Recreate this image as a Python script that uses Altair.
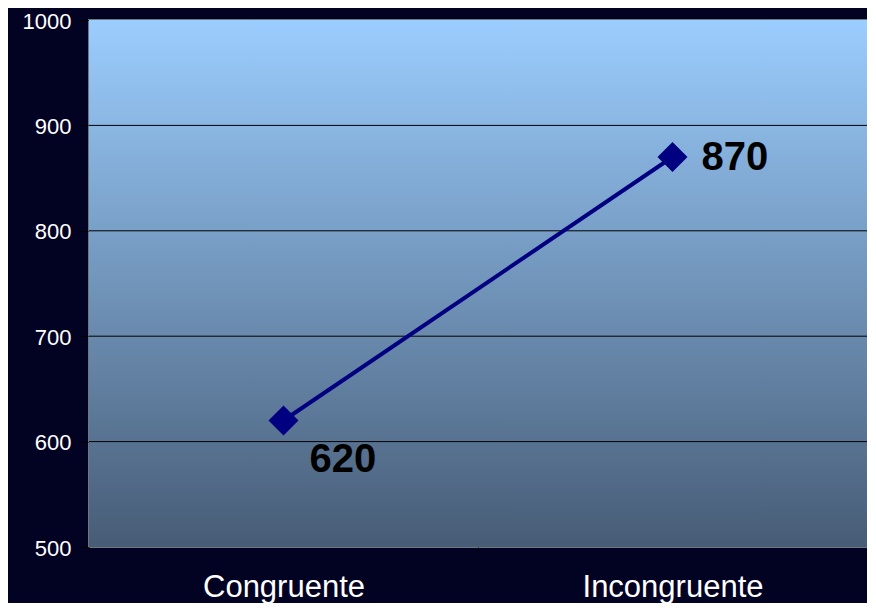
import altair as alt
import pandas as pd

conditions = ["Congruente", "Incongruente"]
reaction_ms = [620, 870]
y_ticks = [500, 600, 700, 800, 900, 1000]
grid_values = [600, 700, 800, 900]

df = pd.DataFrame({"cond": conditions, "rt": reaction_ms})
grid_df = pd.DataFrame({"rt": grid_values})
bg_df = pd.DataFrame({"k": [0]})

FONT = "Liberation Sans"

x_enc = alt.X(
    "cond:N",
    sort=conditions,
    scale=alt.Scale(type="band", paddingInner=0, paddingOuter=0, domain=conditions),
    axis=alt.Axis(
        title=None, labelAngle=0, tickBand="extent", tickSize=6, tickColor="#000000",
        labelPadding=43, labelBaseline="alphabetic", labelFontSize=31, labelLimit=0,
        labelColor="#ffffff", labelFont=FONT, domain=False, grid=False,
    ),
)
y_scale = alt.Scale(domain=[500, 1000], nice=False, zero=False)
y_axis = alt.Axis(
    values=y_ticks, format="d", title=None, grid=False, domain=True, domainColor="#6f7780",
    domainWidth=2, tickSize=9, tickColor="#000000", labelPadding=9, labelOffset=1,
    labelFontSize=22, labelColor="#ffffff", labelFont=FONT, labelBaseline="middle",
)
y_enc = alt.Y("rt:Q", scale=y_scale, axis=y_axis)

bg = alt.Chart(bg_df).mark_rect(
    color=alt.Gradient(
        gradient="linear",
        stops=[alt.GradientStop(color="#9bcdfe", offset=0),
               alt.GradientStop(color="#475c76", offset=1)],
        x1=0, x2=0, y1=0, y2=1,
    )
).encode(x=alt.value(0), x2=alt.value("width"), y=alt.value(0), y2=alt.value("height"))

grid = alt.Chart(grid_df).mark_rule(color="#000000", strokeWidth=1).encode(
    y=alt.Y("rt:Q", scale=y_scale, axis=y_axis)
)

base = alt.Chart(df).encode(x=x_enc, y=y_enc)

line = base.mark_line(color="#000080", strokeWidth=4)
points = base.mark_point(shape="diamond", filled=True, size=900, color="#000080", opacity=1)

text_low = base.transform_filter(alt.datum.cond == conditions[0]).mark_text(
    fontSize=40, fontWeight="bold", font=FONT, align="left", baseline="middle",
    dx=26, dy=39, color="#000000"
).encode(text="rt:Q")
text_high = base.transform_filter(alt.datum.cond == conditions[1]).mark_text(
    fontSize=40, fontWeight="bold", font=FONT, align="left", baseline="middle",
    dx=29, dy=1, color="#000000"
).encode(text="rt:Q")

chart = alt.layer(bg, grid, line, points, text_low, text_high).properties(
    width=778, height=527,
    autosize=alt.AutoSizeParams(type="none"),
    padding={"left": 81, "top": 12, "right": 0, "bottom": 56},
    background="#020222",
).configure_view(stroke="#6f7780", strokeWidth=2)

chart.save("out.html", embed_options={"renderer": "svg", "actions": False})
